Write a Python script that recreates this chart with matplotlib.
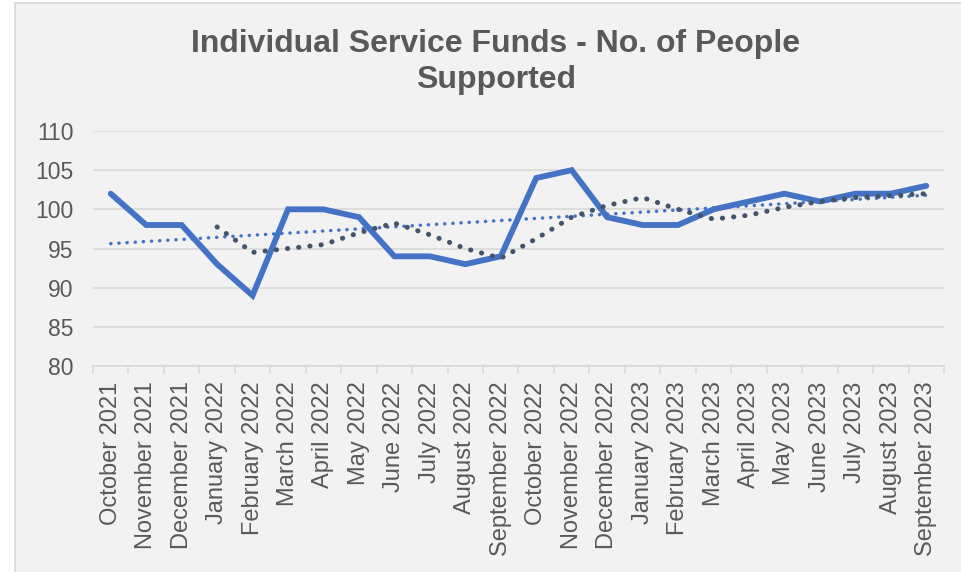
import numpy as np
import matplotlib.pyplot as plt
from matplotlib.patches import Rectangle

plt.rcParams['font.family'] = ['Liberation Sans', 'DejaVu Sans']

months = ['October 2021', 'November 2021', 'December 2021', 'January 2022',
          'February 2022', 'March 2022', 'April 2022', 'May 2022', 'June 2022',
          'July 2022', 'August 2022', 'September 2022', 'October 2022',
          'November 2022', 'December 2022', 'January 2023', 'February 2023',
          'March 2023', 'April 2023', 'May 2023', 'June 2023', 'July 2023',
          'August 2023', 'September 2023']
people = [102, 98, 98, 93, 89, 100, 100, 99, 94, 94, 93, 94,
          104, 105, 99, 98, 98, 100, 101, 102, 101, 102, 102, 103]

x = np.arange(len(months))
y = np.array(people, dtype=float)

# 4-period moving average and linear trend
ma = np.convolve(y, np.ones(4) / 4, mode='valid')
ma_x = x[3:]
k, b = np.polyfit(x, y, 1)

fig = plt.figure(figsize=(9.61, 5.72), dpi=100)
fig.patch.set_facecolor('white')
fig.add_artist(Rectangle((15 / 961, -0.01), 1, (572 - 3) / 572 + 0.01,
                         transform=fig.transFigure, facecolor='#f2f2f2',
                         edgecolor='#d9d9d9', linewidth=1.2, zorder=0))

ax = fig.add_axes([93 / 961, 1 - 366 / 572, (944 - 93) / 961, (366 - 131) / 572])
ax.set_facecolor('none')

ax.plot(x, y, color='#4472c4', linewidth=4.2, solid_joinstyle='miter',
        solid_capstyle='round', zorder=3)
ax.plot(ma_x, ma, color='#44546a', linewidth=3.6, linestyle=(0, (0.05, 2.2)),
        dash_capstyle='round', zorder=4)
ax.plot(x, k * x + b, color='#4472c4', linewidth=2.5, linestyle=(0, (0.05, 2.3)),
        dash_capstyle='round', zorder=2)

ax.set_xlim(-0.5, len(months) - 0.5)
ax.set_ylim(80, 110)
ax.set_yticks(range(80, 111, 5))
ax.grid(axis='y', color='#d9d9d9', linewidth=1.2)
ax.set_axisbelow(True)
for s in ['top', 'right', 'left']:
    ax.spines[s].set_visible(False)
ax.spines['bottom'].set_color('#d9d9d9')
ax.spines['bottom'].set_linewidth(1.2)

ax.set_xticks(x)
ax.set_xticklabels(months, rotation=90, fontsize=17, color='#595959')
ax.set_xticks(np.arange(-0.5, len(months), 1), minor=True)
ax.tick_params(axis='x', which='major', length=0, pad=11)
ax.tick_params(axis='x', which='minor', length=6, color='#d9d9d9', width=1.2)
ax.tick_params(axis='y', length=0, labelsize=16.5, labelcolor='#595959', pad=14)

fig.text(496 / 961, 1 - 62 / 572, 'Individual Service Funds - No. of People\nSupported',
         ha='center', va='center', fontsize=23, fontweight='bold',
         color='#595959', linespacing=1.3)

fig.savefig('out.png', dpi=100, facecolor=fig.get_facecolor())
